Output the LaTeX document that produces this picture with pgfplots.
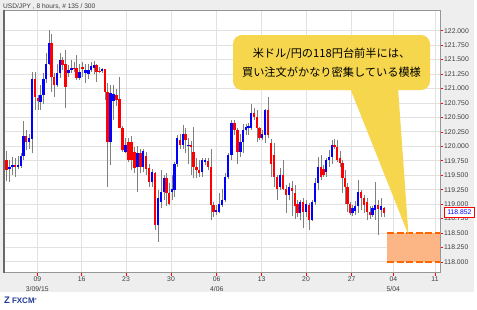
\documentclass[border=0pt]{standalone}
\usepackage{fontspec}
\setmainfont{Liberation Sans}
\newfontfamily\jp{Noto Sans CJK JP}
\usepackage{pgfplots}
\usepackage{pgfplotstable}
\pgfplotsset{compat=1.18}
\definecolor{bg}{RGB}{238,238,238}
\definecolor{wick}{RGB}{128,128,128}
\definecolor{upc}{RGB}{0,0,255}
\definecolor{dnc}{RGB}{255,0,0}
\definecolor{gridc}{RGB}{226,226,226}
\definecolor{frame}{RGB}{150,150,150}
\definecolor{bubble}{RGB}{246,214,76}
\definecolor{zonefill}{RGB}{252,182,134}
\definecolor{zoneline}{RGB}{255,102,0}
\definecolor{fxblue}{RGB}{30,60,150}
\definecolor{lbl}{RGB}{60,60,60}

\pgfplotstableread{
x o h l c
6.5 119.76 119.92 119.40 119.59
9.5 119.60 119.76 119.38 119.64
12.5 119.65 119.82 119.50 119.68
15.0 119.67 119.79 119.47 119.64
18.0 119.64 119.83 119.60 119.67
21.0 119.66 119.89 119.63 119.84
23.5 119.84 120.43 119.76 120.17
26.0 120.17 120.28 119.93 120.08
29.0 120.08 120.22 119.96 120.14
32.0 120.13 121.29 119.88 121.16
35.0 121.16 121.29 120.63 120.86
38.0 120.84 120.89 120.63 120.78
40.5 120.76 121.06 120.63 120.89
43.5 120.89 121.26 120.74 121.17
46.0 121.17 121.62 121.09 121.43
49.0 121.43 122.02 121.41 121.79
51.5 121.79 121.95 120.94 121.20
54.0 121.20 121.26 120.86 121.06
57.0 121.06 121.43 121.03 121.27
60.0 121.26 121.62 121.18 121.50
62.5 121.50 121.55 121.32 121.41
65.5 121.42 121.66 120.67 121.03
68.5 121.26 121.40 121.20 121.32
71.5 121.32 121.50 121.26 121.36
74.0 121.36 121.45 121.28 121.33
76.5 121.35 121.58 121.15 121.18
79.5 121.19 121.43 121.15 121.29
82.5 121.38 121.46 121.20 121.34
85.5 121.26 121.43 121.09 121.32
88.5 121.25 121.43 121.17 121.32
91.0 121.32 121.45 121.29 121.39
94.0 121.35 121.48 121.25 121.40
96.5 121.40 121.43 121.12 121.29
99.5 121.31 121.38 121.26 121.29
102.0 121.30 121.36 121.27 121.33
105.0 121.33 121.34 120.80 120.94
107.5 120.94 121.09 119.30 120.08
110.5 120.08 121.06 119.68 120.92
113.5 120.79 121.06 120.45 120.90
116.5 120.88 121.00 120.70 120.80
119.5 120.81 121.20 120.31 120.31
122.5 120.31 120.35 119.90 119.93
125.5 119.91 120.14 119.88 120.02
128.5 120.08 120.15 119.73 119.76
131.5 120.07 120.18 119.59 119.76
134.5 119.91 119.99 119.53 119.62
137.5 119.65 120.00 119.21 119.88
140.5 119.88 119.96 119.53 119.65
143.0 119.65 119.96 119.55 119.92
146.0 119.83 119.90 119.50 119.60
149.0 119.62 119.70 119.30 119.39
152.0 119.39 119.60 119.30 119.55
155.0 119.53 119.56 118.55 118.64
158.0 118.64 119.24 118.35 119.10
161.0 119.04 119.59 118.93 119.21
164.0 119.21 119.50 119.07 119.45
166.5 119.45 119.53 118.96 119.19
169.0 119.19 119.36 118.98 119.01
172.0 119.21 119.50 119.07 119.27
174.5 119.24 119.73 119.13 119.69
177.0 119.69 120.19 119.65 120.14
180.0 120.11 120.22 119.96 120.02
183.0 120.02 120.37 119.96 120.22
185.5 120.22 120.31 119.88 120.11
188.5 120.00 120.14 119.70 120.02
191.0 120.02 120.10 119.50 119.99
193.5 119.91 120.34 119.45 119.65
196.5 119.65 119.79 119.45 119.59
199.0 119.59 119.76 119.47 119.53
202.0 119.56 119.79 119.47 119.76
205.0 119.73 119.80 119.68 119.77
208.0 119.74 119.79 119.59 119.65
211.0 119.65 119.96 118.72 118.98
213.5 118.98 119.04 118.78 118.87
216.0 118.86 118.98 118.81 118.90
219.0 118.87 119.19 118.84 119.01
222.0 118.98 119.27 118.95 119.07
225.0 119.07 119.53 119.04 119.47
228.0 119.47 119.88 119.44 119.85
231.5 119.85 120.45 119.76 120.40
234.5 120.40 120.45 120.19 120.28
237.5 120.28 120.31 119.70 119.91
240.5 119.91 120.22 119.82 120.08
243.0 120.08 120.39 119.88 120.28
246.0 120.28 120.39 120.19 120.34
248.5 120.31 120.40 120.20 120.36
251.0 120.31 120.74 120.28 120.57
254.0 120.57 120.66 120.45 120.51
257.0 120.51 120.63 120.08 120.31
259.5 120.31 120.34 120.11 120.14
262.0 120.14 120.28 120.11 120.22
265.0 120.20 120.65 120.05 120.62
268.0 120.62 120.86 120.14 120.19
271.0 120.06 120.13 119.47 119.70
274.0 119.85 120.05 119.30 119.47
277.0 119.47 119.50 119.07 119.27
280.0 119.30 119.62 119.24 119.50
283.0 119.50 119.76 119.24 119.27
286.0 119.27 119.33 118.84 119.16
289.0 119.16 119.36 119.07 119.30
292.0 119.28 119.40 118.80 119.22
295.0 119.19 119.33 118.75 118.96
297.5 119.01 119.07 118.78 118.84
300.0 118.84 119.07 118.72 119.04
303.0 119.04 119.10 118.58 118.86
306.0 118.86 119.08 118.78 119.00
309.0 118.98 119.02 118.55 118.72
312.0 118.72 119.07 118.70 119.04
315.0 119.04 119.45 118.99 119.36
318.0 119.36 119.82 119.24 119.65
321.0 119.65 119.85 119.42 119.47
323.5 119.60 119.68 119.47 119.50
326.0 119.55 119.79 119.47 119.76
329.0 119.76 119.94 119.65 119.82
332.0 119.82 120.11 119.70 120.02
334.5 120.02 120.12 119.95 119.98
337.0 119.98 120.11 119.73 119.76
340.0 119.80 119.92 119.65 119.71
342.5 119.71 119.76 119.19 119.45
345.0 119.45 119.59 119.00 119.30
347.5 119.30 119.36 118.87 119.01
350.0 119.01 119.04 118.81 118.84
352.5 118.84 118.98 118.80 118.94
355.0 118.88 119.05 118.82 118.97
358.0 118.97 119.41 118.84 119.21
361.0 119.21 119.24 118.90 119.10
364.0 119.10 119.15 118.85 118.98
367.0 119.04 119.10 118.72 118.87
370.0 118.87 118.96 118.75 118.82
372.5 118.82 118.96 118.78 118.93
375.0 118.90 119.39 118.72 118.98
378.0 118.98 119.07 118.47 118.92
381.0 118.90 119.10 118.77 118.96
384.0 118.93 118.95 118.77 118.85
}\candles

\begin{document}
\begin{tikzpicture}[x=1bp,y=1bp]
\useasboundingbox (0,0) rectangle (477,-309);
\fill[white] (0,0) rectangle (477,-309);
\fill[bg] (0,0) rectangle (474,-292);
\node[anchor=base west, inner sep=0pt, font=\fontsize{6.6bp}{7bp}\selectfont, text=lbl] at (3,-8) {USD/JPY , 8 hours, \# 135 / 300};
\begin{axis}[
  anchor=north west, at={(3bp,-10bp)},
  width=437bp, height=262.5bp, scale only axis,
  xmin=3, xmax=440, ymin=117.817, ymax=122.358,
  axis background/.style={fill=white},
  axis line style={draw=frame, line width=0.8bp},
  grid=major, major grid style={draw=gridc, line width=0.9bp},
  tick align=outside, major tick length=3bp,
  tick style={draw=red, line width=0.6bp},
  xtick={37.3,81.7,126,171,216.7,261.7,306,351.7,393.3,435},
  xticklabels={{09\\3/09/15},16,23,30,{06\\4/06},13,20,27,{04\\5/04},11},
  xticklabel style={align=center, font=\fontsize{6.8bp}{10bp}\selectfont, text=lbl, inner sep=1.5bp},
  ytick={118,118.25,118.5,118.75,119,119.25,119.5,119.75,120,120.25,120.5,120.75,121,121.25,121.5,121.75,122},
  yticklabel pos=right,
  yticklabel style={font=\fontsize{6.8bp}{8bp}\selectfont, text=lbl, anchor=west, inner sep=1bp,
    /pgf/number format/.cd, fixed, fixed zerofill, precision=3, 1000 sep={}, assume math mode=true},
  ytick pos=right, xtick pos=bottom,
]
% wicks
\addplot[draw=none, forget plot, error bars/.cd, y dir=plus, y explicit, error mark=none,
  error bar style={draw=wick, line width=1bp, solid}]
  table[x=x, y=l, y error expr=\thisrow{h}-\thisrow{l}] {\candles};
% up bodies
\addplot[draw=none, forget plot, error bars/.cd, y dir=plus, y explicit, error mark=none,
  error bar style={draw=upc, line width=2.1bp, solid}]
  table[x=x, y=o, y error expr={max(\thisrow{c}-\thisrow{o},0)}] {\candles};
% down bodies
\addplot[draw=none, forget plot, error bars/.cd, y dir=plus, y explicit, error mark=none,
  error bar style={draw=dnc, line width=2.1bp, solid}]
  table[x=x, y=c, y error expr={max(\thisrow{o}-\thisrow{c},0)}] {\candles};
% order zone
\addplot[fill=zonefill, draw=none, forget plot] coordinates {(387,118) (440,118) (440,118.5) (387,118.5)} -- cycle;
\addplot[draw=zoneline, line width=2.6bp, dash pattern=on 7bp off 2.5bp, forget plot] coordinates {(387,118.5) (440,118.5)};
\addplot[draw=zoneline, line width=2.6bp, dash pattern=on 7bp off 2.5bp, forget plot] coordinates {(387,118) (440,118)};
\end{axis}
\draw[frame!70!black, line width=1.6bp] (3.8,-10) -- (3.8,-272.5);
% bubble
\fill[bubble] (350,-88) -- (398,-88) -- (408.5,-235) -- cycle;
\fill[bubble, rounded corners=9bp] (233,-35) rectangle (430,-90);
\node[align=center, font=\jp\fontsize{11.2bp}{19bp}\selectfont, inner sep=0pt] at (331.5,-62.5)
  {米ドル/円の118円台前半には、\\買い注文がかなり密集している模様};
% last price
\node[draw=red, fill=white, text=upc, line width=0.6bp, anchor=west, inner sep=0.8bp,
  minimum width=30bp, minimum height=10bp, font=\fontsize{6.8bp}{8bp}\selectfont] at (444,-212.6) {118.852};
% logo
\node[anchor=west, inner sep=0pt, text=fxblue, font=\bfseries\fontsize{9.5bp}{10bp}\selectfont] at (4,-300.5) {Z\hspace{2bp}{\fontsize{8bp}{9bp}\selectfont FXCM}\raisebox{3bp}{\fontsize{3bp}{3bp}\selectfont ®}};
\end{tikzpicture}
\end{document}
